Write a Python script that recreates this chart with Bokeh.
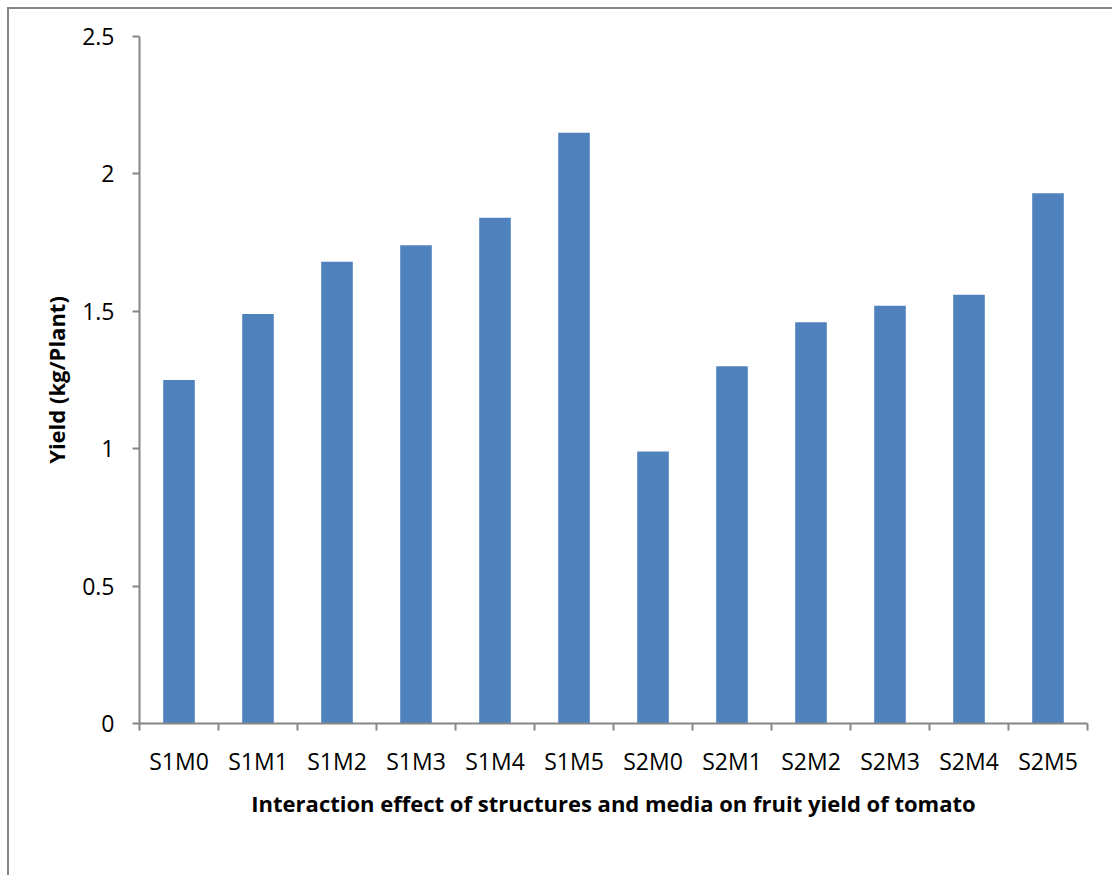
from bokeh.plotting import figure
from bokeh.models import FixedTicker, Range1d, ColumnDataSource
from bokeh.embed import file_html
from bokeh.resources import INLINE

# Treatment combinations (structure x growing medium) and fruit yield per plant
treatments = ["S1M0", "S1M1", "S1M2", "S1M3", "S1M4", "S1M5",
              "S2M0", "S2M1", "S2M2", "S2M3", "S2M4", "S2M5"]
yield_kg = [1.25, 1.49, 1.68, 1.74, 1.84, 2.15,
            0.99, 1.30, 1.46, 1.52, 1.56, 1.93]
y_ticks = [0, 0.5, 1, 1.5, 2, 2.5]

FONT = "Open Sans"
AXIS_GREY = "#868686"

centers = [i + 0.5 for i in range(len(treatments))]
source = ColumnDataSource(dict(x=centers, top=yield_kg, name=treatments))

p = figure(width=1105, height=868, output_backend="svg", toolbar_location=None,
           x_range=Range1d(0, len(treatments)), y_range=Range1d(0, 2.5),
           min_border_left=130, min_border_right=27,
           min_border_top=27, min_border_bottom=154)

# chart area border (left and top edges visible in the window)
p.styles = {"margin-left": "7px", "margin-top": "7px",
            "border-left": "2px solid #868686", "border-top": "2px solid #868686"}

p.vbar(x="x", top="top", width=0.4, source=source,
       fill_color="#4F81BD", line_color=None)

p.grid.visible = False
p.outline_line_color = None
p.background_fill_color = "white"
p.border_fill_color = "white"

# x axis: labels at bar centres, tick marks at category boundaries
xa = p.xaxis[0]
xa.ticker = FixedTicker(ticks=centers, minor_ticks=list(range(len(treatments) + 1)))
xa.major_label_overrides = {c: t for c, t in zip(centers, treatments)}
xa.major_tick_out = 0
xa.major_tick_in = 0
xa.minor_tick_out = 7
xa.minor_tick_in = 0
xa.minor_tick_line_color = AXIS_GREY
xa.axis_line_color = AXIS_GREY
xa.axis_line_width = 2
xa.minor_tick_line_width = 2
xa.major_label_text_font = FONT
xa.major_label_text_font_size = "23px"
xa.major_label_text_color = "black"
xa.major_label_standoff = 14
xa.axis_label = "Interaction effect of structures and media on fruit yield of tomato"
xa.axis_label_text_font = FONT
xa.axis_label_text_font_style = "bold"
xa.axis_label_text_font_size = "22px"
xa.axis_label_text_color = "black"
xa.axis_label_standoff = 8

ya = p.yaxis[0]
ya.ticker = FixedTicker(ticks=y_ticks, minor_ticks=[])
ya.major_label_overrides = {0: "0", 0.5: "0.5", 1: "1", 1.5: "1.5", 2: "2", 2.5: "2.5"}
ya.major_tick_out = 7
ya.major_tick_in = 0
ya.major_tick_line_color = AXIS_GREY
ya.major_tick_line_width = 2
ya.axis_line_color = AXIS_GREY
ya.axis_line_width = 2
ya.major_label_text_font = FONT
ya.major_label_text_font_size = "23px"
ya.major_label_text_color = "black"
ya.major_label_standoff = 18
ya.axis_label = "Yield (kg/Plant)"
ya.axis_label_text_font = FONT
ya.axis_label_text_font_style = "bold"
ya.axis_label_text_font_size = "22px"
ya.axis_label_text_color = "black"
ya.axis_label_standoff = 8

open("out.html", "w").write(file_html(p, INLINE))
